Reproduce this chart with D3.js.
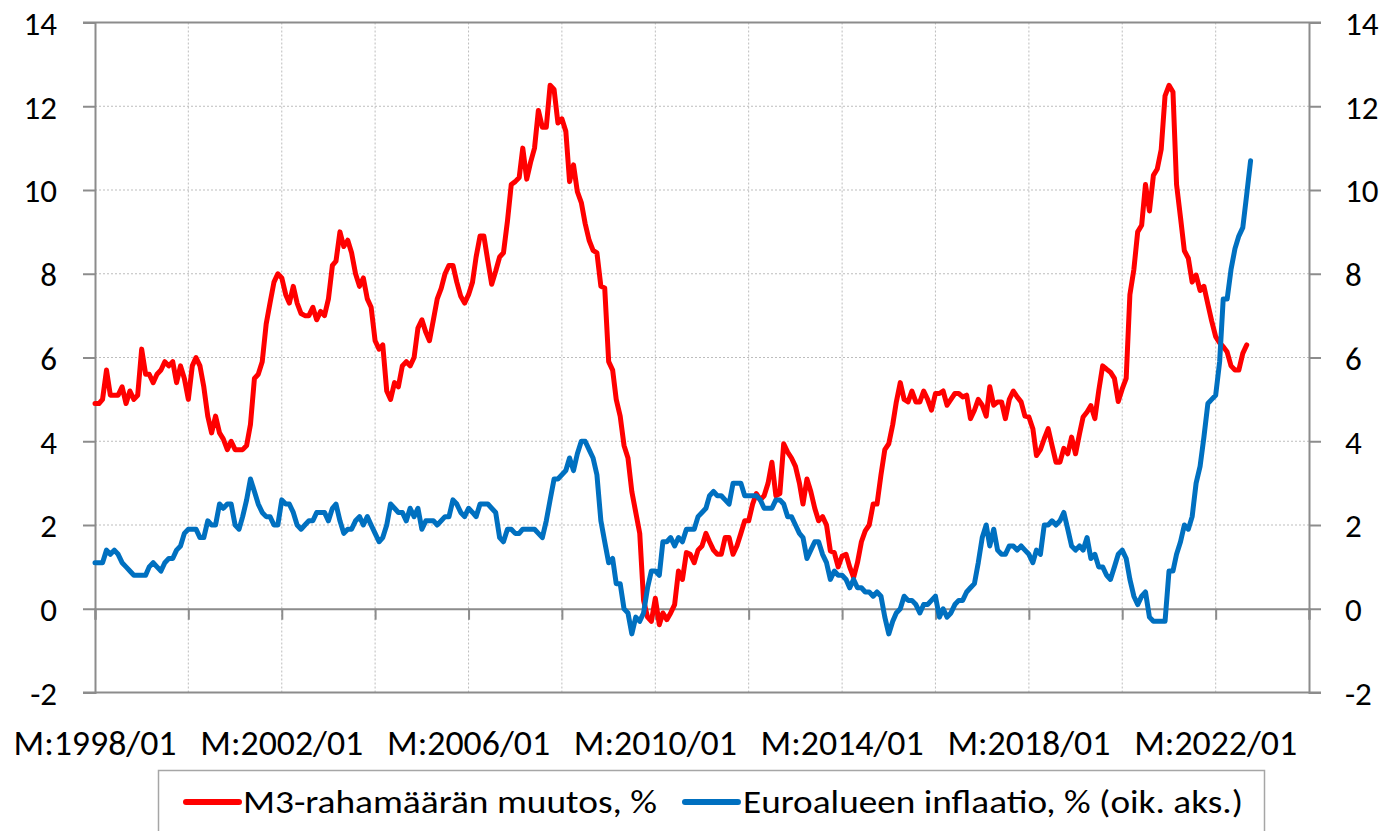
<!DOCTYPE html>
<html>
<head>
<meta charset="utf-8">
<script src="https://cdn.jsdelivr.net/npm/d3@7"></script>
<style>
  body { margin: 0; background: #ffffff; }
  svg text { font-family: Carlito, Calibri, Lato, sans-serif; fill: #000; }
</style>
</head>
<body>
<svg id="chart" width="1389" height="831"></svg>
<script>
// Monthly series, first observation January 1998.
const firstMonth = new Date(1998, 0, 1);

// Euro area M3 money supply, annual change %, 1998/01 - 2022/09 (left axis)
const m3Growth = [
  4.9, 4.9, 5.0, 5.7, 5.1, 5.1, 5.1, 5.3, 4.9, 5.2, 5.0, 5.1,        // 1998
  6.2, 5.6, 5.6, 5.4, 5.6, 5.7, 5.9, 5.8, 5.9, 5.4, 5.8, 5.5,        // 1999
  5.0, 5.8, 6.0, 5.8, 5.3, 4.6, 4.2, 4.6, 4.2, 4.05, 3.8, 4.0,       // 2000
  3.8, 3.8, 3.8, 3.9, 4.4, 5.5, 5.6, 5.9, 6.8, 7.3, 7.8, 8.0,        // 2001
  7.9, 7.5, 7.3, 7.7, 7.3, 7.05, 7.0, 7.0, 7.2, 6.9, 7.1, 7.0,       // 2002
  7.4, 8.2, 8.3, 9.0, 8.65, 8.8, 8.5, 8.0, 7.7, 7.9, 7.4, 7.2,       // 2003
  6.4, 6.2, 6.3, 5.2, 5.0, 5.4, 5.3, 5.8, 5.9, 5.8, 6.0, 6.7,        // 2004
  6.9, 6.6, 6.4, 6.9, 7.4, 7.65, 8.0, 8.2, 8.2, 7.8, 7.46, 7.3,      // 2005
  7.5, 7.8, 8.4, 8.9, 8.9, 8.3, 7.75, 8.06, 8.4, 8.5, 9.25, 10.13,   // 2006
  10.2, 10.3, 11.0, 10.26, 10.66, 11.0, 11.9, 11.5, 11.5, 12.5, 12.4, 11.6, // 2007
  11.7, 11.4, 10.2, 10.6, 9.96, 9.7, 9.2, 8.8, 8.56, 8.5, 7.7, 7.66, // 2008
  5.9, 5.7, 5.0, 4.6, 3.9, 3.6, 2.8, 2.3, 1.8, 0.2, -0.2, -0.3,      // 2009
  0.25, -0.38, -0.1, -0.26, -0.1, 0.1, 0.9, 0.7, 1.34, 1.3, 1.1, 1.4, // 2010
  1.5, 1.8, 1.6, 1.4, 1.3, 1.3, 1.7, 1.7, 1.3, 1.5, 1.8, 2.1,        // 2011
  2.1, 2.5, 2.75, 2.6, 2.7, 3.0, 3.5, 2.7, 2.75, 3.94, 3.74, 3.6,    // 2012
  3.4, 3.0, 2.5, 3.1, 2.8, 2.4, 2.1, 2.2, 2.0, 1.38, 1.34, 1.0,      // 2013
  1.26, 1.3, 1.0, 0.75, 1.1, 1.6, 1.86, 2.0, 2.5, 2.5, 3.2, 3.8,     // 2014
  3.94, 4.4, 4.94, 5.4, 5.0, 4.94, 5.2, 4.94, 4.94, 5.2, 5.0, 4.74,  // 2015
  5.14, 5.14, 5.2, 4.86, 5.0, 5.14, 5.14, 5.06, 5.1, 4.54, 4.74, 5.0, // 2016
  4.86, 4.6, 5.3, 4.86, 4.94, 4.94, 4.54, 5.0, 5.2, 5.06, 4.94, 4.6, // 2017
  4.58, 4.3, 3.66, 3.8, 4.06, 4.3, 3.9, 3.5, 3.5, 3.83, 3.7, 4.1,    // 2018
  3.7, 4.18, 4.58, 4.7, 4.85, 4.54, 5.2, 5.8, 5.72, 5.65, 5.5, 4.95, // 2019
  5.25, 5.5, 7.5, 8.1, 9.0, 9.16, 10.13, 9.5, 10.35, 10.5, 10.97, 12.25, // 2020
  12.5, 12.34, 10.13, 9.34, 8.55, 8.37, 7.8, 7.97, 7.6, 7.7, 7.27, 6.87, // 2021
  6.5, 6.35, 6.26, 6.13, 5.8, 5.7, 5.7, 6.1, 6.3                      // 2022
];

// Euro area HICP inflation, annual change %, 1998/01 - 2022/10 (right axis)
const inflation = [
  1.1, 1.1, 1.1, 1.4, 1.3, 1.4, 1.3, 1.1, 1.0, 0.9, 0.8, 0.8,        // 1998
  0.8, 0.8, 1.0, 1.1, 1.0, 0.9, 1.1, 1.2, 1.2, 1.4, 1.5, 1.8,        // 1999
  1.9, 1.9, 1.9, 1.7, 1.7, 2.1, 2.0, 2.0, 2.5, 2.4, 2.5, 2.5,        // 2000
  2.0, 1.9, 2.2, 2.6, 3.1, 2.8, 2.5, 2.3, 2.2, 2.2, 2.0, 2.0,        // 2001
  2.6, 2.5, 2.5, 2.3, 2.0, 1.9, 2.0, 2.1, 2.1, 2.3, 2.3, 2.3,        // 2002
  2.1, 2.4, 2.5, 2.1, 1.8, 1.9, 1.9, 2.1, 2.2, 2.0, 2.2, 2.0,        // 2003
  1.8, 1.6, 1.7, 2.0, 2.5, 2.4, 2.3, 2.3, 2.1, 2.4, 2.2, 2.4,        // 2004
  1.9, 2.1, 2.1, 2.1, 2.0, 2.1, 2.2, 2.2, 2.6, 2.5, 2.3, 2.2,        // 2005
  2.4, 2.3, 2.2, 2.5, 2.5, 2.5, 2.4, 2.3, 1.7, 1.6, 1.9, 1.9,        // 2006
  1.8, 1.8, 1.9, 1.9, 1.9, 1.9, 1.8, 1.7, 2.1, 2.6, 3.1, 3.1,        // 2007
  3.2, 3.3, 3.6, 3.3, 3.7, 4.0, 4.0, 3.8, 3.6, 3.2, 2.1, 1.6,        // 2008
  1.1, 1.2, 0.6, 0.6, 0.0, -0.1, -0.6, -0.2, -0.3, -0.1, 0.5, 0.9,   // 2009
  0.9, 0.8, 1.6, 1.6, 1.7, 1.5, 1.7, 1.6, 1.9, 1.9, 1.9, 2.2,        // 2010
  2.3, 2.4, 2.7, 2.8, 2.7, 2.7, 2.6, 2.5, 3.0, 3.0, 3.0, 2.7,        // 2011
  2.7, 2.7, 2.7, 2.6, 2.4, 2.4, 2.4, 2.6, 2.6, 2.5, 2.2, 2.2,        // 2012
  2.0, 1.8, 1.7, 1.2, 1.4, 1.6, 1.6, 1.3, 1.1, 0.7, 0.9, 0.8,        // 2013
  0.8, 0.7, 0.5, 0.7, 0.5, 0.5, 0.4, 0.4, 0.3, 0.4, 0.3, -0.2,       // 2014
  -0.6, -0.3, -0.1, 0.0, 0.3, 0.2, 0.2, 0.1, -0.1, 0.1, 0.1, 0.2,    // 2015
  0.3, -0.2, 0.0, -0.2, -0.1, 0.1, 0.2, 0.2, 0.4, 0.5, 0.6, 1.1,     // 2016
  1.7, 2.0, 1.5, 1.9, 1.4, 1.3, 1.3, 1.5, 1.5, 1.4, 1.5, 1.4,        // 2017
  1.3, 1.1, 1.4, 1.3, 2.0, 2.0, 2.1, 2.0, 2.1, 2.3, 1.9, 1.5,        // 2018
  1.4, 1.5, 1.4, 1.7, 1.2, 1.3, 1.0, 1.0, 0.8, 0.7, 1.0, 1.3,        // 2019
  1.4, 1.2, 0.7, 0.3, 0.1, 0.3, 0.4, -0.2, -0.3, -0.3, -0.3, -0.3,   // 2020
  0.9, 0.9, 1.3, 1.6, 2.0, 1.9, 2.2, 3.0, 3.4, 4.1, 4.9, 5.0,        // 2021
  5.1, 5.9, 7.4, 7.4, 8.1, 8.6, 8.9, 9.1, 9.9, 10.7                  // 2022
];

const valueTicks = [-2, 0, 2, 4, 6, 8, 10, 12, 14];
const gridYears = [1998, 2000, 2002, 2004, 2006, 2008, 2010, 2012, 2014, 2016, 2018, 2020, 2022, 2024];
const labelYears = [1998, 2002, 2006, 2010, 2014, 2018, 2022];
const seriesNames = ["M3-rahamäärän muutos, %", "Euroalueen inflaatio, % (oik. aks.)"];
const seriesColors = ["#ff0000", "#0070c0"];

const svg = d3.select("#chart");
const plot = { left: 95, right: 1309, top: 22.5, bottom: 692.5 };
const axisGray = "#8c8c8c";

const x = d3.scaleTime()
  .domain([new Date(1998, 0, 1), new Date(2024, 0, 1)])
  .range([plot.left, plot.right]);
const yLeft = d3.scaleLinear().domain([-2, 14]).range([plot.bottom, plot.top]);
const yRight = d3.scaleLinear().domain([-2, 14]).range([plot.bottom, plot.top]);

const monthDate = i => d3.timeMonth.offset(firstMonth, i);
const plainNumber = d => String(d);   // ASCII hyphen for negatives

// dotted gridlines
const grid = svg.append("g");
grid.selectAll("line.h")
  .data(valueTicks.filter(v => v !== -2 && v !== 14 && v !== 0))
  .join("line")
  .attr("x1", plot.left).attr("x2", plot.right)
  .attr("y1", d => yLeft(d)).attr("y2", d => yLeft(d))
  .attr("stroke", "#bdbdbd").attr("stroke-width", 1)
  .attr("stroke-dasharray", "2,2");
grid.selectAll("line.v")
  .data(gridYears.filter(yr => yr !== 1998 && yr !== 2024))
  .join("line")
  .attr("x1", d => x(new Date(d, 0, 1))).attr("x2", d => x(new Date(d, 0, 1)))
  .attr("y1", plot.top).attr("y2", plot.bottom)
  .attr("stroke", "#bdbdbd").attr("stroke-width", 1)
  .attr("stroke-dasharray", "2,2");

// plot frame: top and bottom edges
const frame = svg.append("g").attr("stroke", axisGray).attr("stroke-width", 2);
frame.append("line").attr("x1", plot.left - 12).attr("x2", plot.right + 12)
  .attr("y1", plot.top).attr("y2", plot.top);
frame.append("line").attr("x1", plot.left - 12).attr("x2", plot.right + 12)
  .attr("y1", plot.bottom).attr("y2", plot.bottom);

// left value axis
const leftAxis = d3.axisLeft(yLeft).tickValues(valueTicks).tickSize(12).tickPadding(26)
  .tickFormat(plainNumber);
const gL = svg.append("g").attr("transform", `translate(${plot.left},0)`).call(leftAxis);

// right value axis
const rightAxis = d3.axisRight(yRight).tickValues(valueTicks).tickSize(12).tickPadding(24)
  .tickFormat(plainNumber);
const gR = svg.append("g").attr("transform", `translate(${plot.right},0)`).call(rightAxis);

[gL, gR].forEach(g => {
  g.select(".domain").attr("stroke", axisGray).attr("stroke-width", 2);
  g.selectAll(".tick line").attr("stroke", axisGray).attr("stroke-width", 2);
  g.selectAll(".tick text")
    .attr("font-size", 33).attr("dy", "0.36em")
    .style("font-family", "Carlito, Calibri, Lato, sans-serif");
});

// time axis drawn along the zero line
const timeAxis = d3.axisBottom(x)
  .tickValues(gridYears.map(yr => new Date(yr, 0, 1)))
  .tickSize(11).tickFormat("");
const gX = svg.append("g").attr("transform", `translate(0,${yLeft(0)})`).call(timeAxis);
gX.select(".domain").attr("stroke", axisGray).attr("stroke-width", 2);
gX.selectAll(".tick line").attr("stroke", axisGray).attr("stroke-width", 2);

// time labels under the plot
svg.append("g").selectAll("text")
  .data(labelYears)
  .join("text")
  .attr("x", d => x(new Date(d, 0, 1)))
  .attr("y", 755)
  .attr("text-anchor", "middle")
  .attr("font-size", 34)
  .attr("textLength", 163)
  .attr("lengthAdjust", "spacingAndGlyphs")
  .text(d => `M:${d}/01`);

// series lines
const lineLeft = d3.line()
  .x((d, i) => x(monthDate(i)))
  .y(d => yLeft(d));
const lineRight = d3.line()
  .x((d, i) => x(monthDate(i)))
  .y(d => yRight(d));

svg.append("path")
  .datum(m3Growth)
  .attr("d", lineLeft)
  .attr("fill", "none")
  .attr("stroke", seriesColors[0])
  .attr("stroke-width", 5)
  .attr("stroke-linejoin", "round")
  .attr("stroke-linecap", "round");

svg.append("path")
  .datum(inflation)
  .attr("d", lineRight)
  .attr("fill", "none")
  .attr("stroke", seriesColors[1])
  .attr("stroke-width", 5)
  .attr("stroke-linejoin", "round")
  .attr("stroke-linecap", "round");

// legend
const legend = svg.append("g");
legend.append("rect")
  .attr("x", 158.5).attr("y", 770.5)
  .attr("width", 1106).attr("height", 80)
  .attr("fill", "#ffffff")
  .attr("stroke", "#a6a6a6").attr("stroke-width", 1.5);

const legendItems = [
  { name: seriesNames[0], color: seriesColors[0], x0: 186, x1: 239, tx: 243, tw: 414 },
  { name: seriesNames[1], color: seriesColors[1], x0: 685, x1: 738, tx: 743, tw: 500 }
];
legendItems.forEach(it => {
  legend.append("line")
    .attr("x1", it.x0).attr("x2", it.x1)
    .attr("y1", 802).attr("y2", 802)
    .attr("stroke", it.color).attr("stroke-width", 6)
    .attr("stroke-linecap", "round");
  legend.append("text")
    .attr("x", it.tx).attr("y", 813)
    .attr("font-size", 33)
    .attr("textLength", it.tw)
    .attr("lengthAdjust", "spacingAndGlyphs")
    .text(it.name);
});
</script>
</body>
</html>
